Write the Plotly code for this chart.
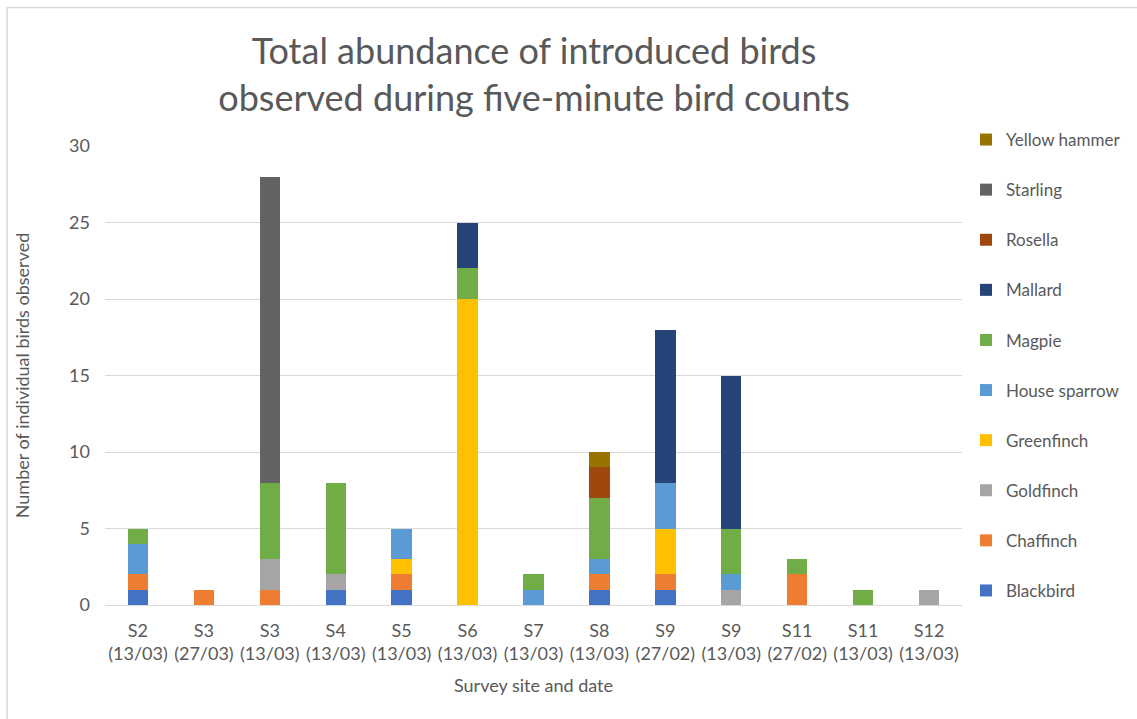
import plotly.graph_objects as go

sites = ["S2<br>(13/03)", "S3<br>(27/03)", "S3<br>(13/03)", "S4<br>(13/03)", "S5<br>(13/03)",
         "S6<br>(13/03)", "S7<br>(13/03)", "S8<br>(13/03)", "S9<br>(27/02)", "S9<br>(13/03)",
         "S11<br>(27/02)", "S11<br>(13/03)", "S12<br>(13/03)"]

blackbird     = [1, 0, 0, 1, 1, 0, 0, 1, 1, 0, 0, 0, 0]
chaffinch     = [1, 1, 1, 0, 1, 0, 0, 1, 1, 0, 2, 0, 0]
goldfinch     = [0, 0, 2, 1, 0, 0, 0, 0, 0, 1, 0, 0, 1]
greenfinch    = [0, 0, 0, 0, 1, 20, 0, 0, 3, 0, 0, 0, 0]
house_sparrow = [2, 0, 0, 0, 2, 0, 1, 1, 3, 1, 0, 0, 0]
magpie        = [1, 0, 5, 6, 0, 2, 1, 4, 0, 3, 1, 1, 0]
mallard       = [0, 0, 0, 0, 0, 3, 0, 0, 10, 10, 0, 0, 0]
rosella       = [0, 0, 0, 0, 0, 0, 0, 2, 0, 0, 0, 0, 0]
starling      = [0, 0, 20, 0, 0, 0, 0, 0, 0, 0, 0, 0, 0]
yellow_hammer = [0, 0, 0, 0, 0, 0, 0, 1, 0, 0, 0, 0, 0]

# stacked bottom-to-top
series = [
    ("Blackbird", blackbird, "#4472C4"),
    ("Chaffinch", chaffinch, "#ED7D31"),
    ("Goldfinch", goldfinch, "#A5A5A5"),
    ("Greenfinch", greenfinch, "#FFC000"),
    ("House sparrow", house_sparrow, "#5B9BD5"),
    ("Magpie", magpie, "#70AD47"),
    ("Mallard", mallard, "#264478"),
    ("Rosella", rosella, "#9E480E"),
    ("Starling", starling, "#636363"),
    ("Yellow hammer", yellow_hammer, "#997300"),
]

W, H = 1137, 719
L, R, T, B = 105, 174, 146, 114
pw = W - L - R
ph = H - T - B

fig = go.Figure()
n = len(series)
for i, (name, vals, col) in enumerate(series):
    fig.add_trace(go.Bar(
        x=sites, y=vals, name=name, legendgroup=name,
        legendrank=(n - i) * 10,   # topmost segment listed first
        marker=dict(color=col, line=dict(width=0)),
    ))

grey = "#595959"
fig.update_layout(
    width=W, height=H,
    barmode="stack", bargap=0.69,
    margin=dict(l=L, r=R, t=T, b=B),
    paper_bgcolor="white", plot_bgcolor="white",
    font=dict(family="Lato, 'Open Sans', sans-serif", color=grey, size=17),
    title=dict(
        text="Total abundance of introduced birds<br>observed during five-minute bird counts",
        x=(L + pw / 2) / W, xanchor="center",
        y=1 - 64 / H, yanchor="middle",
        font=dict(size=36, color=grey, family="Lato, sans-serif"),
    ),
    xaxis=dict(
        showgrid=False, showline=True, linecolor="#d9d9d9", linewidth=1,
        ticks="", ticklabelstandoff=9, tickfont=dict(size=18, color=grey),
        title=dict(text="Survey site and date", font=dict(size=18, color=grey), standoff=16),
    ),
    yaxis=dict(
        range=[0, 30], dtick=5, showgrid=True, gridcolor="#d9d9d9", gridwidth=1,
        zeroline=False, showline=False, ticks="", ticklabelstandoff=14,
        tickfont=dict(size=18, color=grey),
        title=dict(text="Number of individual birds observed", font=dict(size=18, color=grey), standoff=34),
    ),
    legend=dict(
        traceorder="grouped", tracegroupgap=25,
        x=(966 - L) / pw, xanchor="left",
        y=1 + (T - 122) / ph, yanchor="top",
        font=dict(size=17, color=grey),
        itemwidth=30, maxheight=1.0,
    ),
    shapes=[dict(
        type="rect", xref="paper", yref="paper",
        x0=(7 - L) / pw, x1=(W + 20 - L) / pw,
        y0=-(H + 20 - T - ph) / ph, y1=1 + (T - 7.5) / ph,
        line=dict(color="#d9d9d9", width=1.5), fillcolor="rgba(0,0,0,0)", layer="below",
    )],
)

fig.write_html("out.html")
